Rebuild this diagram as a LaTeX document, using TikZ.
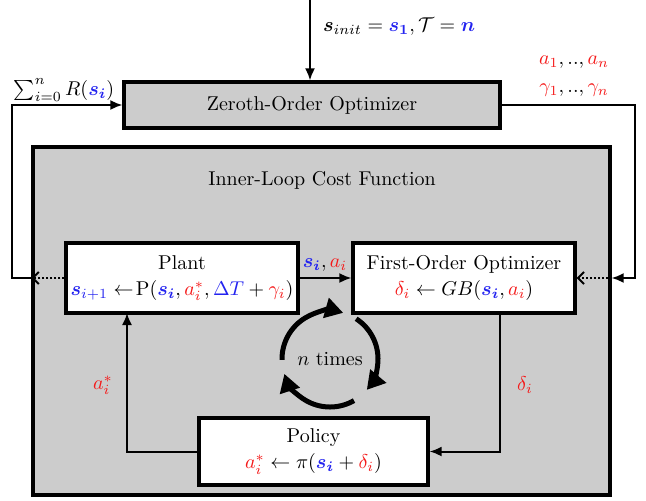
\documentclass[tikz,border=0pt]{standalone}
\usepackage{amsmath,amssymb}
\usepackage{xcolor}
\usetikzlibrary{arrows.meta}
\definecolor{sred}{RGB}{245,25,25}
\definecolor{sblue}{RGB}{35,35,240}
\newcommand{\cs}[1]{\textcolor{sblue}{\boldsymbol{#1}}}
\newcommand{\ca}[1]{\textcolor{sred}{#1}}

\begin{document}
\begin{tikzpicture}[x=0.5pt,y=0.5pt,
    box/.style={draw,line width=1.6pt,fill=white,align=center,inner sep=0pt},
    graybox/.style={box,fill=gray!40},
    link/.style={line width=1pt,-{Latex[length=6pt,width=5pt]}},
    dotlink/.style={line width=1pt,densely dotted,-{Straight Barb[length=3pt,width=6pt]}},
    ring/.style={line width=2.5pt,-{Triangle[length=9pt,width=10pt]}}]%
  \useasboundingbox (0,0) rectangle (646,500);%
  \node[graybox,minimum width=188pt,minimum height=23pt] (zoo) at (312,395) {Zeroth-Order Optimizer};%
  \node[graybox,minimum width=288.5pt,minimum height=174pt] (inner) at (321.5,179) {};%
  \node (title) at (322,320) {Inner-Loop Cost Function};%
  \node[box,minimum width=116pt,minimum height=35pt] (plant) at (182,222)
    {Plant\\[1pt] $\cs{s}_{\textcolor{sblue}{i+1}}\leftarrow\!\mathrm{P}(\cs{s_i},\ca{a_i^*},\textcolor{sblue}{\Delta T}+\ca{\gamma_i})$};%
  \node[box,minimum width=111pt,minimum height=35pt] (fo) at (464,222)
    {First-Order Optimizer\\[1pt] $\ca{\delta_i}\leftarrow GB(\cs{s_i},\ca{a_i})$};%
  \node[box,minimum width=114.5pt,minimum height=33.5pt] (policy) at (313.5,48.5)
    {Policy\\[1pt] $\ca{a_i^*}\leftarrow\pi(\cs{s_i}+\ca{\delta_i})$};%
  \coordinate (init) at (310,500);%
  \coordinate (lturn) at (12,222);%
  \coordinate (rturn) at (635,222);%
  \coordinate (fodown) at (500,187);%
  \coordinate (plantup) at (127,187);%
  \draw[link] (init) -- (init |- zoo.north);%
  \node[anchor=west] (initlab) at (316,473) {$\boldsymbol{s}_{init}=\cs{s_1},\mathcal{T}=\cs{n}$};%
  \draw[dotlink] (plant.west) -- (inner.west |- lturn);%
  \draw[link] (inner.west |- lturn) -- (lturn) |- (zoo.west);%
  \node (sumlab) at (64,410) {$\sum_{i=0}^{n}R(\cs{s_i})$};%
  \draw[link] (zoo.east) -| (rturn) -- (inner.east |- rturn);%
  \draw[dotlink] (inner.east |- rturn) -- (fo.east);%
  \node (alab) at (574,438) {$\ca{a_1},..,\ca{a_n}$};%
  \node (glab) at (574,410) {$\ca{\gamma_1},..,\ca{\gamma_n}$};%
  \draw[link] (plant.east) -- (fo.west);%
  \node (salab) at (325,235) {$\cs{s_i},\ca{a_i}$};%
  \draw[link] (fodown) |- (policy.east);%
  \node (dlab) at (525,115) {$\ca{\delta_i}$};%
  \draw[link] (policy.west) -| (plantup);%
  \node (aslab) at (103,115) {$\ca{a_i^*}$};%
  \draw[ring] (330,141) ++(181:48) arc[start angle=181,end angle=74,radius=48];%
  \draw[ring] (330,141) ++(57:48) arc[start angle=57,end angle=-40,radius=48];%
  \draw[ring] (330,141) ++(-60:48) arc[start angle=-60,end angle=-162,radius=48];%
  \node (times) at (330,141) {$n$ times};%
\end{tikzpicture}
\end{document}
